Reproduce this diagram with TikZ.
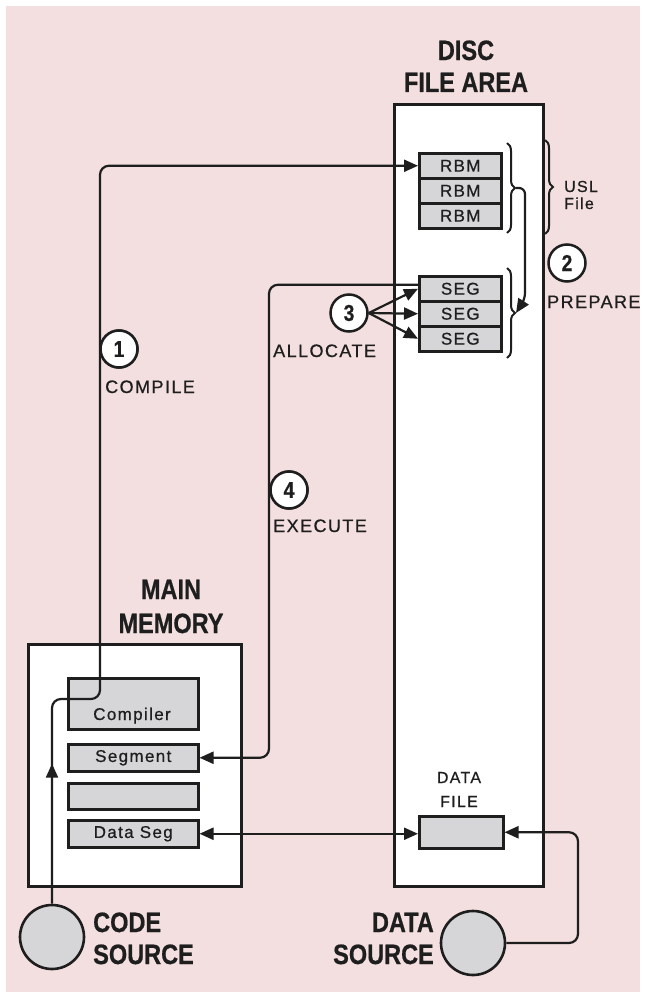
\documentclass[tikz,border=0pt]{standalone}
\usepackage{fontspec}
\setmainfont{Liberation Sans}
\newfontfamily\ttlfont[FakeStretch=0.84,FakeBold=0.6]{Liberation Sans}
\newfontfamily\lblfont[LetterSpace=8,FakeBold=0.7]{Liberation Sans}
\usetikzlibrary{arrows.meta,decorations.pathreplacing,decorations.markings}
\definecolor{bgpink}{RGB}{243,223,223}
\definecolor{cellgray}{RGB}{214,214,216}
\definecolor{ink}{RGB}{30,30,30}
\begin{document}
\begin{tikzpicture}[x=1pt,y=-1pt,
  tip/.style={-{Triangle[length=14pt,width=12pt]}},
  conn/.style={draw=ink, line width=2.2pt},
  cell/.style={draw=ink, line width=2.5pt, fill=cellgray, inner sep=0pt, anchor=north west,
    minimum width=82pt, minimum height=25pt, text=ink, font=\lblfont\fontsize{17}{17}\selectfont},
  mcell/.style={cell, minimum width=130pt},
  area/.style={draw=ink, line width=2.8pt, fill=white},
  ttl/.style={inner sep=0pt, text=ink, font=\ttlfont\bfseries\fontsize{28}{28}\selectfont},
  lbl/.style={inner sep=0pt, text=ink, font=\lblfont\fontsize{18}{18}\selectfont},
  numc/.style={circle, draw=ink, line width=2.5pt, fill=white, minimum size=37pt, inner sep=0pt,
    text=ink, font=\ttlfont\bfseries\fontsize{23}{23}\selectfont},
  src/.style={circle, draw=ink, line width=2.6pt, fill=cellgray, minimum size=64pt, inner sep=0pt},
  brc/.style={draw=ink, line width=2pt, decorate, decoration={brace, amplitude=8pt}}]
\useasboundingbox[fill=white] (0,0) rectangle (646,998);
\fill[bgpink] (6,6) rectangle (640,992);

% areas
\node[area, anchor=north west, minimum width=149pt, minimum height=782pt, inner sep=0pt] (disc) at (393,103) {};
\node[area, anchor=north west, minimum width=213pt, minimum height=242pt, inner sep=0pt] (mem) at (27,643) {};

% titles
\node[ttl, anchor=base] (t1) at (466,60) {DISC};
\node[ttl, anchor=base] (t2) at (466,92) {FILE AREA};
\node[ttl, anchor=base] (t3) at (171,599) {MAIN};
\node[ttl, anchor=base] (t4) at (171,633) {MEMORY};
\node[ttl, anchor=base west] (t5) at (93,932) {CODE};
\node[ttl, anchor=base west] (t6) at (93,964) {SOURCE};
\node[ttl, anchor=base east] (t7) at (434,932) {DATA};
\node[ttl, anchor=base east] (t8) at (434,964) {SOURCE};

% disc cells
\node[cell] (rbm1) at (418,152) {RBM};
\node[cell] (rbm2) at (418,177) {RBM};
\node[cell] (rbm3) at (418,202) {RBM};
\node[cell] (seg1) at (418,275) {SEG};
\node[cell] (seg2) at (418,300) {SEG};
\node[cell] (seg3) at (418,325) {SEG};
\node[cell, minimum width=84pt, minimum height=32pt] (dfile) at (418,815) {};
\node[lbl, anchor=base, font=\lblfont\fontsize{16}{16}\selectfont] (df1) at (459,783) {DATA};
\node[lbl, anchor=base, font=\lblfont\fontsize{16}{16}\selectfont] (df2) at (459,807) {FILE};

% memory cells
\node[mcell, minimum height=51pt] (comp) at (67,677) {};
\node[lbl, anchor=base, font=\lblfont\fontsize{17}{17}\selectfont] (compt) at (132,720) {Compiler};
\node[mcell, minimum height=27pt] (segm) at (67,743) {Segment};
\node[mcell, minimum height=26pt] (empt) at (67,782) {};
\node[mcell, minimum height=27pt] (dseg) at (67,819) {Data Seg};

% braces
\draw[brc] (507,143) -- (507,233);
\draw[brc] (507,268) -- (507,358);
\draw[brc] (545,140) -- (545,234);
\coordinate (b1) at (516,188);
\coordinate (b2) at (516,313);
\node[lbl, anchor=base west, font=\lblfont\fontsize{16}{16}\selectfont] (usl) at (564,192) {USL};
\node[lbl, anchor=base west, font=\lblfont\fontsize{16}{16}\selectfont] (file) at (564,209) {File};

% sources
\node[src] (cs) at (52,937) {};
\node[src] (ds) at (473,943) {};

% numbered steps
\node[numc] (n1) at (119,349) {1};
\node[lbl, anchor=base west] (l1) at (105,393) {COMPILE};
\node[numc] (n2) at (567,263) {2};
\node[lbl, anchor=base west] (l2) at (547,308) {PREPARE};
\node[numc] (n3) at (349,313) {3};
\node[lbl, anchor=base west] (l3) at (273,357) {ALLOCATE};
\node[numc] (n4) at (289,490) {4};
\node[lbl, anchor=base west] (l4) at (273,532) {EXECUTE};

% connectors
\coordinate (cx) at (100,699);
\draw[conn, rounded corners=9pt, tip,
  postaction={decorate, decoration={markings, mark=at position 140pt with {\arrow{Triangle[length=14pt,width=12pt]}}}}]
  (cs.north) |- (cx) |- (rbm1.west);
\draw[conn, rounded corners=6pt, tip] (b1) -- (525,188) -- (525,299) -- (b2);
\draw[conn, tip] (n3.east) -- (seg1.west);
\draw[conn, tip] (n3.east) -- (seg2.west);
\draw[conn, tip] (n3.east) -- (seg3.west);
\coordinate (ex) at (269,0);
\draw[conn, rounded corners=9pt, tip] ([yshift=4pt]seg1.west) -| (ex |- segm.east) -- (segm.east);
\draw[conn, {Triangle[length=14pt,width=12pt]}-{Triangle[length=14pt,width=12pt]}] (dseg.east) -- (dseg.east -| dfile.west);
\coordinate (dx) at (578,0);
\draw[conn, rounded corners=9pt, tip] (ds.east) -| (dx |- dfile.east) -- (dfile.east);

% redraw circles on top of lines
\node[numc] at (n1) {1};
\node[numc] at (n4) {4};
\end{tikzpicture}
\end{document}
